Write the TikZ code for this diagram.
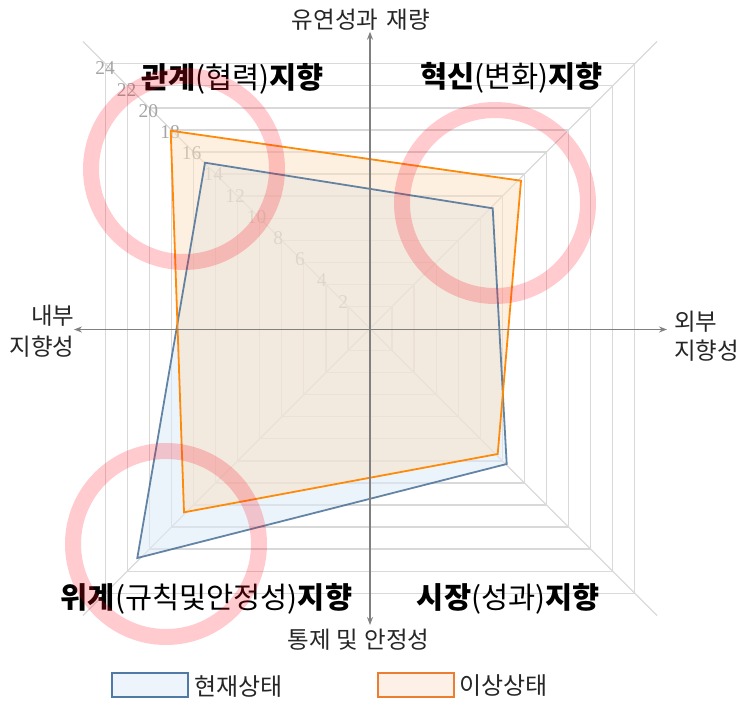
\documentclass[tikz,border=0pt]{standalone}
\usepackage{fontspec}
\newfontfamily\kr{Noto Sans CJK KR}
\newfontfamily\numf{Liberation Serif}
\usetikzlibrary{arrows.meta}
\definecolor{gridc}{HTML}{D9D9D9}
\definecolor{numc}{HTML}{A5A5A5}
\definecolor{blueline}{HTML}{4A7096}
\definecolor{bluefill}{HTML}{DDEBF7}
\definecolor{orline}{HTML}{FF8A0A}
\definecolor{orfill}{HTML}{FBE1C4}
\definecolor{legblue}{HTML}{5079A5}
\definecolor{legbluefill}{HTML}{EEF4FB}
\definecolor{legor}{HTML}{ED7D31}
\definecolor{legorfill}{HTML}{FDF1E7}
\definecolor{axisc}{HTML}{808080}
\definecolor{ringc}{HTML}{FF1020}
\begin{document}
\begin{tikzpicture}[x=1pt,y=-1pt,
  gridline/.style={draw=gridc,line width=1.3pt},
  numlbl/.style={text=numc,font=\numf\fontsize{19.5}{21}\selectfont,inner sep=0pt},
  bluefillst/.style={fill=bluefill,fill opacity=0.55},
  orfillst/.style={fill=orfill,fill opacity=0.5},
  bluelinest/.style={draw=blueline,draw opacity=0.85,line width=1.8pt,line join=miter},
  orlinest/.style={draw=orline,line width=1.8pt,line join=miter},
  axisline/.style={draw=axisc,line width=1.1pt,{Stealth[length=8pt,width=6pt]}-{Stealth[length=8pt,width=6pt]}},
  axlbl/.style={font=\kr\fontsize{23.5}{27}\selectfont,inner sep=0pt,text=black!85},
  quadlbl/.style={font=\kr\fontsize{29.5}{34}\selectfont,inner sep=0pt,text=black},
  ringst/.style={draw=ringc,draw opacity=0.22,line width=16pt},
  legbox/.style={line width=1.8pt},
  leglbl/.style={font=\kr\fontsize{24}{28}\selectfont,inner sep=0pt,anchor=west,text=black!85}]
\useasboundingbox (0,0) rectangle (743,702);
\coordinate (O) at (370,328.5);
% spokes
\foreach \sx/\sy [count=\i] in {1/1,1/-1,-1/1,-1/-1}{
  \coordinate (sp\i) at ({370+\sx*287},{328.5+\sy*287});
  \draw[gridline] (O) -- (sp\i);
}
% grid squares
\foreach \L in {2,4,...,24}{
  \draw[gridline] ({370-11.03*\L},{328.5-11.03*\L}) rectangle ({370+11.03*\L},{328.5+11.03*\L});
}
% scale numbers
\foreach \L in {2,4,...,24}{
  \node[numlbl] (n\L) at ({343.3-10.83*(\L-2)},{301.7-10.6*(\L-2)}) {\L};
}
% data polygons
\coordinate (b1) at (205,162.7);
\coordinate (b2) at (492.7,208.3);
\coordinate (b3) at (506.7,464);
\coordinate (b4) at (137.3,558);
\coordinate (o1) at (170.7,130.7);
\coordinate (o2) at (521,180.7);
\coordinate (o3) at (497.7,454);
\coordinate (o4) at (184,512.3);
\path[bluefillst] (b1) -- (b2) -- (b3) -- (b4) -- cycle;
\path[orfillst] (o1) -- (o2) -- (o3) -- (o4) -- cycle;
\path[bluelinest] (b1) -- (b2) -- (b3) -- (b4) -- cycle;
\path[orlinest] (o1) -- (o2) -- (o3) -- (o4) -- cycle;
% axes
\coordinate (atop) at (370,31.7);
\coordinate (abot) at (370,625);
\coordinate (aleft) at (74,329.5);
\coordinate (aright) at (667,329.5);
\draw[axisline] (abot) -- (atop);
\draw[axisline] (aleft) -- (aright);
% axis labels
\node[axlbl] (ltop) at (360.8,19.5) {유연성과\hspace{8pt}재량};
\node[axlbl] (lbot) at (358.5,640) {통제\hspace{6pt}및\hspace{6pt}안정성};
\node[axlbl,anchor=east] (ll1) at (74.5,315.5) {내부};
\node[axlbl,anchor=east] (ll2) at (74.5,347) {지향성};
\node[axlbl,anchor=west] (lr1) at (674,321.5) {외부};
\node[axlbl,anchor=west] (lr2) at (674,351) {지향성};
% quadrant labels
\node[quadlbl] (q1) at (232.5,79) {\textbf{관계}(협력)\textbf{지향}};
\node[quadlbl] (q2) at (511.7,78) {\textbf{혁신}(변화)\textbf{지향}};
\node[quadlbl] (q3) at (206.5,599) {\textbf{위계}(규칙및안정성)\textbf{지향}};
\node[quadlbl] (q4) at (508.3,599) {\textbf{시장}(성과)\textbf{지향}};
% legend
\draw[legbox,draw=legblue,fill=legbluefill] (112.3,673.3) rectangle (188.3,696.7);
\node[leglbl] (lg1) at (194,686) {현재상태};
\draw[legbox,draw=legor,fill=legorfill] (377.7,673.3) rectangle (454,696.7);
\node[leglbl] (lg2) at (459,686) {이상상태};
% highlight rings
\draw[ringst] (184,169) circle[radius=93pt];
\draw[ringst] (495,203) circle[radius=93pt];
\draw[ringst] (166,544) circle[radius=93pt];
\end{tikzpicture}
\end{document}
